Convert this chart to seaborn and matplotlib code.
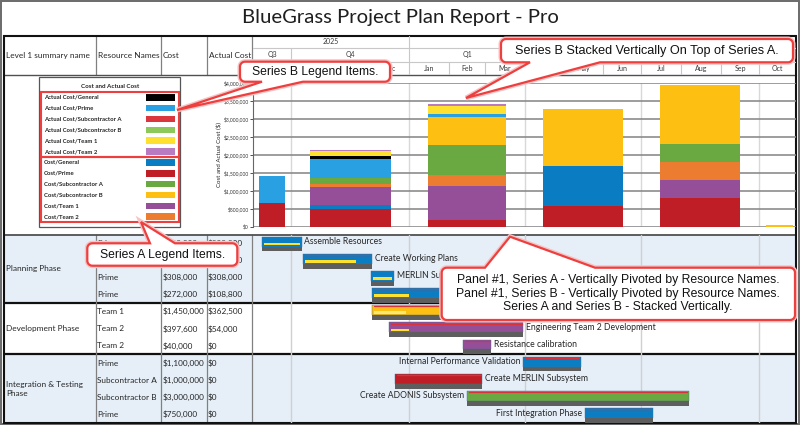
import numpy as np
import pandas as pd
import matplotlib
matplotlib.use("Agg")
import matplotlib.pyplot as plt
import seaborn as sns
from matplotlib.patches import Rectangle, Polygon
from matplotlib.ticker import FuncFormatter, MultipleLocator

# ------------------------------------------------------------------ DATA
title = "BlueGrass Project Plan Report - Pro"
header_cols = ["Level 1 summary name", "Resource Names", "Cost", "Actual Cost"]

timeline_start = "2025-09-01"
timeline_end = "2026-10-29"
year_labels = ["2025", "2026"]
year_edges = ["2025-09-01", "2026-01-01", "2026-10-29"]
quarter_labels = ["Q3", "Q4", "Q1", "Q2", "Q3", "Q4"]
quarter_edges = ["2025-09-01", "2025-10-01", "2026-01-01", "2026-04-01",
                 "2026-07-01", "2026-10-01", "2026-11-01"]

# stacked cost chart, one value per quarter (Q3 2025 ... Q4 2026)
cost_general = [0, 100000, 0, 1110000, 0, 0]
cost_prime = [670000, 500000, 185000, 575000, 787000, 0]
cost_sub_a = [0, 140000, 835000, 0, 500000, 0]
cost_sub_b = [0, 0, 760000, 1575000, 1650000, 45000]
cost_team1 = [0, 500000, 945000, 0, 509000, 0]
cost_team2 = [0, 100000, 315000, 0, 500000, 0]
actual_general = [0, 100000, 0, 0, 0, 0]
actual_prime = [730000, 530000, 95000, 0, 0, 0]
actual_sub_a = [0, 0, 0, 0, 0, 0]
actual_sub_b = [0, 0, 0, 0, 0, 0]
actual_team1 = [0, 120000, 230000, 0, 0, 0]
actual_team2 = [0, 45000, 55000, 0, 0, 0]

legend_title = "Cost and Actual Cost"
legend_names = ["Actual Cost/General", "Actual Cost/Prime", "Actual Cost/Subcontractor A",
                "Actual Cost/Subcontractor B", "Actual Cost/Team 1", "Actual Cost/Team 2",
                "Cost/General", "Cost/Prime", "Cost/Subcontractor A",
                "Cost/Subcontractor B", "Cost/Team 1", "Cost/Team 2"]
legend_colors = ["#000000", "#28a0e1", "#d9363e", "#8dc85a", "#fde12e", "#b87bc2",
                 "#0a7cc1", "#c01e26", "#6aa842", "#fcbf12", "#944f98", "#ec7c30"]
series_values = [actual_general, actual_prime, actual_sub_a, actual_sub_b, actual_team1,
                 actual_team2, cost_general, cost_prime, cost_sub_a, cost_sub_b,
                 cost_team1, cost_team2]
stack_order = ["Cost/Prime", "Cost/General", "Cost/Team 1", "Cost/Team 2",
               "Cost/Subcontractor A", "Cost/Subcontractor B", "Actual Cost/Prime",
               "Actual Cost/General", "Actual Cost/Subcontractor A",
               "Actual Cost/Subcontractor B", "Actual Cost/Team 1", "Actual Cost/Team 2"]

# table / gantt
phase_names = ["Planning Phase", "Development Phase", "Integration & Testing\nPhase"]
phase_sizes = [4, 3, 4]
resource_names = ["Prime", "Prime", "Prime", "Prime", "Team 1", "Team 2", "Team 2",
                  "Prime", "Subcontractor A", "Subcontractor B", "Prime"]
task_cost = [800000, 480000, 308000, 272000, 1450000, 397600, 40000,
             1100000, 1000000, 3000000, 750000]
task_actual = [800000, 375000, 308000, 108800, 362500, 54000, 0, 0, 0, 0, 0]
task_names = ["Assemble Resources", "Create Working Plans", "MERLIN Subsystem Design",
              "Design Review", "Engineering Team 1 Development",
              "Engineering Team 2 Development", "Resistance calibration",
              "Internal Performance Validation", "Create MERLIN Subsystem",
              "Create ADONIS Subsystem", "First Integration Phase"]
task_start = ["2025-09-08", "2025-10-10", "2025-12-02", "2025-12-03", "2025-12-03",
              "2025-12-16", "2026-02-12", "2026-03-31", "2025-12-21", "2026-02-15",
              "2026-05-18"]
task_end = ["2025-10-09", "2025-12-03", "2025-12-20", "2026-02-12", "2026-03-15",
            "2026-03-31", "2026-03-06", "2026-05-15", "2026-02-27", "2026-08-07",
            "2026-07-10"]
label_side = ["right"] * 7 + ["left", "right", "left", "left"]
critical = [False, True, False, True, True, True, True, True, True, True, True]
resource_colors = {"Prime": "#0b7dc2", "Team 1": "#fcbf12", "Team 2": "#944f98",
                   "Subcontractor A": "#c01e26", "Subcontractor B": "#6aa842"}

callout_texts = ["Series B Legend Items.", "Series A Legend Items.",
                 "Series B Stacked Vertically On Top of Series A.",
                 "Panel #1, Series A - Vertically Pivoted by Resource Names.\n"
                 "Panel #1, Series B - Vertically Pivoted by Resource Names.\n"
                 "Series A and Series B - Stacked Vertically."]

# ------------------------------------------------------------------ STYLE
sns.set_theme(style="white")
plt.rcParams["font.family"] = ["Lato", "DejaVu Sans"]
TXT = "#262626"
CALLOUT_FONT = ["Liberation Sans", "DejaVu Sans"]
RED = "#ee3f3f"
FS = 5.95

W, H = 800, 425
fig = plt.figure(figsize=(8, 4.25), dpi=100)


def frect(x0, y0, x1, y1):
    return [x0 / W, 1 - y1 / H, (x1 - x0) / W, (y1 - y0) / H]


t0 = pd.Timestamp(timeline_start)


def day(s):
    return (pd.Timestamp(s) - t0).days


XEND = day(timeline_end) + 0.6
TL_X0, TL_X1 = 253, 796
col_x = [4, 95.7, 161, 206.7, 252.3]
HEAD_Y0, HEAD_Y1 = 36, 75
BODY_Y0, BODY_Y1 = 234.5, 423
n_rows = len(task_names)
row_h = (BODY_Y1 - BODY_Y0) / n_rows

# ------------------------------------------------------------------ BACKGROUND / TABLE
bg = fig.add_axes([0, 0, 1, 1], zorder=0)
bg.set_xlim(0, W)
bg.set_ylim(H, 0)
bg.axis("off")

bg.text(400, 17.5, title, ha="center", va="center", fontsize=14.6, color="#1e1e1e")
bg.add_patch(Rectangle((0.7, 0.7), W - 1.4, H - 1.4, fill=False, ec="#6a6a6a", lw=1.4))

# phase bands
row_start = 0
for k, (pname, n) in enumerate(zip(phase_names, phase_sizes)):
    y0 = BODY_Y0 + row_start * row_h
    y1 = y0 + n * row_h
    if k != 1:
        bg.add_patch(Rectangle((4, y0), 792, y1 - y0, color="#e6eff8", lw=0, zorder=0))
    bg.text(6, (y0 + y1) / 2, pname, ha="left", va="center", fontsize=FS, color=TXT,
            linespacing=1.3)
    if k > 0:
        bg.plot([4, 796], [y0, y0], color="#111111", lw=1.6, zorder=3)
    row_start += n

for i in range(n_rows):
    yc = BODY_Y0 + (i + 0.5) * row_h
    bg.text(col_x[1] + 1.5, yc, resource_names[i], ha="left", va="center", fontsize=FS, color=TXT)
    bg.text(col_x[2] + 1.2, yc, f"${task_cost[i]:,.0f}", ha="left", va="center", fontsize=FS, color=TXT)
    bg.text(col_x[3] + 1.2, yc, f"${task_actual[i]:,.0f}", ha="left", va="center", fontsize=FS, color=TXT)

# header
for k, h in enumerate(header_cols):
    bg.text(col_x[k] + 2, (HEAD_Y0 + HEAD_Y1) / 2, h, ha="left", va="center",
            fontsize=FS, color=TXT)
for x in col_x[1:]:
    bg.plot([x, x], [HEAD_Y0, HEAD_Y1], color="#808080", lw=0.9, zorder=3)
    bg.plot([x, x], [BODY_Y0, BODY_Y1], color="#808080", lw=0.9, zorder=3)
bg.plot([4, 796], [HEAD_Y1, HEAD_Y1], color="#505050", lw=1.0, zorder=3)
bg.plot([4, 796], [BODY_Y0, BODY_Y0], color="#505050", lw=1.3, zorder=3)
bg.add_patch(Rectangle((4, HEAD_Y0), 792, BODY_Y1 - HEAD_Y0, fill=False, ec="#111111",
                       lw=1.5, zorder=4))

# legend box
bg.add_patch(Rectangle((39.3, 77.3), 140.7, 149.7, fc="white", ec="#555555", lw=0.9, zorder=2))
bg.text(110, 86, legend_title, ha="center", va="center", fontsize=4.5,
        fontweight="bold", color=TXT, zorder=3)
for k, (nm, c) in enumerate(zip(legend_names, legend_colors)):
    yy = 97.3 + k * 10.85
    bg.text(43.7, yy, nm, ha="left", va="center", fontsize=4.3, fontweight="bold",
            color=TXT, zorder=3)
    bg.add_patch(Rectangle((146, yy - 3.3), 29, 6.6, color=c, lw=0, zorder=3))
bg.add_patch(Rectangle((40.7, 91.7), 138.3, 65, fill=False, ec=RED, lw=1.5, zorder=4))
bg.add_patch(Rectangle((40.7, 157.3), 138.3, 64.4, fill=False, ec=RED, lw=1.5, zorder=4))

# ------------------------------------------------------------------ TIMELINE HEADER
ah = fig.add_axes(frect(TL_X0, HEAD_Y0, TL_X1, HEAD_Y1), zorder=2)
ah.set_xlim(0, XEND)
ah.set_ylim(HEAD_Y1, HEAD_Y0)
ah.axis("off")
ah.patch.set_visible(False)
HC = "#3a3a3a"
for k, lab in enumerate(year_labels):
    a, b = max(day(year_edges[k]), 0), min(day(year_edges[k + 1]), XEND)
    ah.text((a + b) / 2, 42, lab, ha="center", va="center", fontsize=5, color=HC)
    if k > 0:
        ah.plot([a, a], [HEAD_Y0, 48], color="#c8c8c8", lw=0.8)
for k, lab in enumerate(quarter_labels):
    a, b = max(day(quarter_edges[k]), 0), min(day(quarter_edges[k + 1]), XEND)
    ah.text((a + b) / 2, 55, lab, ha="center", va="center", fontsize=5, color=HC)
    if k > 0:
        ah.plot([a, a], [48, 62], color="#c8c8c8", lw=0.8)
months = pd.date_range(timeline_start, timeline_end, freq="MS")
for m in months:
    a = day(m)
    b = min(day(m + pd.offsets.MonthBegin(1)), XEND)
    ah.text((a + b) / 2, 68.5, m.strftime("%b"), ha="center", va="center", fontsize=5, color=HC)
    if a > 0:
        ah.plot([a, a], [62, HEAD_Y1], color="#c8c8c8", lw=0.8)
ah.plot([0, XEND], [48, 48], color="#c8c8c8", lw=0.8)
ah.plot([0, XEND], [62, 62], color="#c8c8c8", lw=0.8)

# ------------------------------------------------------------------ STACKED BAR CHART
qedges = [day(e) for e in quarter_edges]
qmid = [(qedges[k] + qedges[k + 1]) / 2 for k in range(len(quarter_labels))]
records = []
for nm, vals in zip(legend_names, series_values):
    for k, v in enumerate(vals):
        records.append({"day": qmid[k], "series": nm, "value": v})
df = pd.DataFrame(records)

ab = fig.add_axes(frect(TL_X0, 82.7, TL_X1, 226.7), zorder=2)
ab.patch.set_visible(False)
for e in qedges[1:-1]:
    ab.axvline(e, color="#d8d8d8", lw=1.0, zorder=0)
sns.histplot(data=df, x="day", weights="value", hue="series",
             hue_order=stack_order[::-1],
             palette=dict(zip(legend_names, legend_colors)),
             multiple="stack", bins=qedges, shrink=0.68, alpha=1, linewidth=0,
             legend=False, ax=ab, zorder=2)
ab.set_xlim(0, XEND)
ab.set_ylim(0, 4000000)
ab.yaxis.set_major_locator(MultipleLocator(500000))
ab.yaxis.set_major_formatter(FuncFormatter(lambda v, p: f"${v:,.0f}"))
ab.yaxis.grid(True, color="#8c8c8c", lw=1.2)
ab.set_axisbelow(True)
ab.set_xticks([])
ab.set_xlabel("")
ab.set_ylabel("Cost and Actual Cost ($)", fontsize=4.4, labelpad=2, color=TXT)
ab.tick_params(axis="y", labelsize=3.6, length=2, width=0.6, pad=1, colors="#333333", left=True)
for s in ["top", "right", "bottom"]:
    ab.spines[s].set_visible(False)
ab.spines["left"].set_color("#666666")
ab.spines["left"].set_linewidth(0.8)

# ------------------------------------------------------------------ GANTT
ag = fig.add_axes(frect(TL_X0, BODY_Y0, TL_X1, BODY_Y1), zorder=2)
ag.patch.set_visible(False)
ag.set_xlim(0, XEND)
ag.set_ylim(n_rows, 0)
ag.axis("off")
for e in qedges[1:-1]:
    ag.axvline(e, color="#d0d0d0", lw=1.0, zorder=0)
for i in range(n_rows):
    s, e = day(task_start[i]), day(task_end[i])
    col = resource_colors[resource_names[i]]
    ag.barh(i + 0.42, e - s, left=s, height=0.58, color=col, ec="#4a6f90", lw=0.3, zorder=2)
    ag.barh(i + 0.85, e - s, left=s, height=0.28, color="#5e5e5e", lw=0, zorder=2)
    p = task_actual[i] / task_cost[i]
    if p > 0:
        ag.barh(i + 0.565, (e - s - 3) * p, left=s + 1.5, height=0.15,
                color="#fde12e" if resource_names[i] != "Team 1" else "#ffe871",
                lw=0, zorder=3)
    if critical[i]:
        ag.plot([s + 1.5, e - 1.5], [i + 0.2, i + 0.2], color="#d8323a", lw=0.9, zorder=3)
    if label_side[i] == "right":
        ag.text(e + 2, i + 0.42, task_names[i], ha="left", va="center", fontsize=6.2, color=TXT, zorder=4)
    else:
        ag.text(s - 2, i + 0.42, task_names[i], ha="right", va="center", fontsize=6.2, color=TXT, zorder=4)

# ------------------------------------------------------------------ CALLOUTS
ov = fig.add_axes([0, 0, 1, 1], zorder=10)
ov.set_xlim(0, W)
ov.set_ylim(H, 0)
ov.axis("off")
ov.patch.set_visible(False)


def callout(x0, y0, x1, y1, side, b0, b1, tip, r=5):
    pts = []

    def arc(cx, cy, a0, a1):
        for t in np.linspace(a0, a1, 8):
            pts.append((cx + r * np.cos(t), cy + r * np.sin(t)))

    arc(x0 + r, y0 + r, np.pi, 1.5 * np.pi)
    if side == "top":
        pts.extend([(b0, y0), tip, (b1, y0)])
    arc(x1 - r, y0 + r, 1.5 * np.pi, 2 * np.pi)
    arc(x1 - r, y1 - r, 0, 0.5 * np.pi)
    if side == "bottom":
        pts.extend([(b1, y1), tip, (b0, y1)])
    arc(x0 + r, y1 - r, 0.5 * np.pi, np.pi)
    ov.add_patch(Polygon(pts, closed=True, fc="none", ec="#f6c4c4", lw=3.6, zorder=1))
    ov.add_patch(Polygon(pts, closed=True, fc="white", ec=RED, lw=1.6, zorder=2))


callout(240, 61.7, 390, 81.7, "bottom", 262, 303, (177, 110))
ov.text(315, 72, callout_texts[0], ha="center", va="center", fontsize=8.7,
        family=CALLOUT_FONT, color="#111111", zorder=3)
callout(87.3, 243.3, 237.3, 265.7, "top", 150, 175, (141, 222))
ov.text(162.3, 255, callout_texts[1], ha="center", va="center", fontsize=8.7,
        family=CALLOUT_FONT, color="#111111", zorder=3)
callout(501, 39, 793, 62.3, "bottom", 530, 600, (466, 98))
ov.text(647, 50.7, callout_texts[2], ha="center", va="center", fontsize=9.1,
        family=CALLOUT_FONT, color="#111111", zorder=3)
callout(441.7, 267.7, 795, 320, "top", 485, 595, (510, 236.7))
ov.text(618, 293.5, callout_texts[3], ha="center", va="center", fontsize=8.8,
        family=CALLOUT_FONT, color="#111111", linespacing=1.2, zorder=3)

fig.savefig("out.png", dpi=100)
